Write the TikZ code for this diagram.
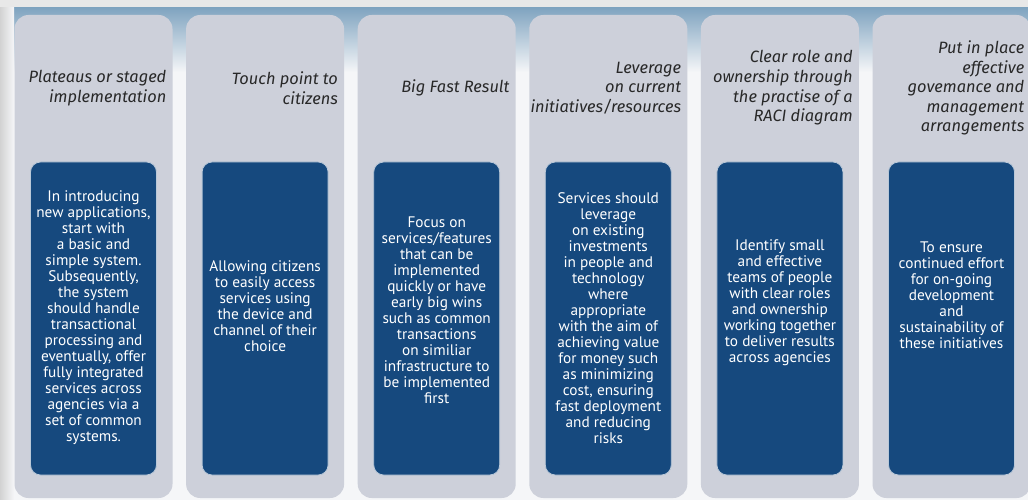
\documentclass[tikz,border=0pt]{standalone}
\usepackage{fontspec}
\setmainfont{PT Sans}
\newfontfamily\headfont{Fira Sans}
\usetikzlibrary{positioning}

\definecolor{panelgray}{RGB}{205,208,218}
\definecolor{cardblue}{RGB}{22,73,126}
\definecolor{bandblue}{RGB}{128,164,192}
\definecolor{headtext}{RGB}{40,40,40}
\definecolor{pagegray}{RGB}{245,246,248}

\tikzset{
  panel/.style={fill=panelgray, rounded corners=14pt, minimum width=158pt,
    minimum height=483pt, inner sep=0pt},
  card/.style={fill=cardblue, draw=white!70!cardblue, line width=0.8pt,
    rounded corners=10pt, minimum width=126pt, minimum height=313pt, inner sep=0pt},
  head/.style={anchor=east, align=right, text=headtext, inner sep=0pt,
    font=\headfont\itshape\fontsize{16.4}{19.6}\selectfont},
  body/.style={align=center, text=white, inner sep=0pt,
    font=\fontsize{15.3}{16}\selectfont},
}

\begin{document}
\begin{tikzpicture}[x=1pt, y=-1pt]
    \useasboundingbox (0,0) rectangle (1028,500);
    % page background
    \fill[pagegray] (0,0) rectangle (1028,500);
    \fill[gray!18] (0,0) rectangle (1028,8);
    \shade[top color=bandblue, bottom color=pagegray] (0,8) rectangle (1028,72);
    \shade[left color=gray!35, right color=pagegray] (0,8) rectangle (14,500);

    % gray columns
    \node[panel] (panel1) at (93.5,256.5) {};
    \node[panel] (panel2) at (265.1,256.5) {};
    \node[panel] (panel3) at (436.7,256.5) {};
    \node[panel] (panel4) at (608.3,256.5) {};
    \node[panel] (panel5) at (779.9,256.5) {};
    \node[panel] (panel6) at (951.5,256.5) {};

    % blue cards
    \node[card] (card1) at (93.5,318.5) {};
    \node[card] (card2) at (265.1,318.5) {};
    \node[card] (card3) at (436.7,318.5) {};
    \node[card] (card4) at (608.3,318.5) {};
    \node[card] (card5) at (779.9,318.5) {};
    \node[card] (card6) at (951.5,318.5) {};

    % Headings
    \node[head] (head1) at (166.5,88) {Plateaus or staged\\implementation};
    \node[head] (head2) at (338.1,88) {Touch point to\\citizens};
    \node[head] (head3) at (509.7,88) {Big Fast Result};
    \node[head] (head4) at (681.3,88) {Leverage\\on current\\initiatives/resources};
    \node[head] (head5) at (852.9,88) {Clear role and\\ownership through\\the practise of a\\RACI diagram};
    \node[head] (head6) at (1024.5,88) {Put in place\\effective\\govemance and\\management\\arrangements};

    % Card texts
    \node[body] (body1) at (93.5,317.5) {In introducing\\new applications,\\start with\\a basic and\\simple system.\\Subsequently,\\the system\\should handle\\transactional\\processing and\\eventually, offer\\fully integrated\\services across\\agencies via a\\set of common\\systems.};
    \node[body] (body2) at (265.1,306) {Allowing citizens\\to easily access\\services using\\the device and\\channel of their\\choice};
    \node[body] (body3) at (436.7,310) {Focus on\\services/features\\that can be\\implemented\\quickly or have\\early big wins\\such as common\\transactions\\on similiar\\infrastructure to\\be implemented\\first};
    \node[body] (body4) at (608.3,318) {Services should\\leverage\\on existing\\investments\\in people and\\technology\\where\\appropriate\\with the aim of\\achieving value\\for money such\\as minimizing\\cost, ensuring\\fast deployment\\and reducing\\risks};
    \node[body] (body5) at (779.9,303) {Identify small\\and effective\\teams of people\\with clear roles\\and ownership\\working together\\to deliver results\\across agencies};
    \node[body] (body6) at (951.5,295) {To ensure\\continued effort\\for on-going\\development\\and\\sustainability of\\these initiatives};
\end{tikzpicture}
\end{document}
